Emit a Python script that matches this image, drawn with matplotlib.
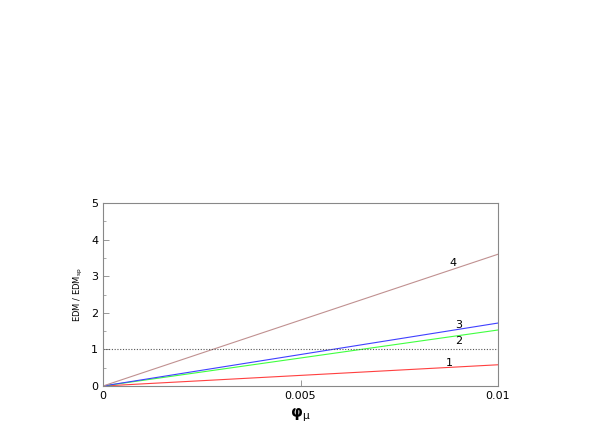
import matplotlib
matplotlib.use("Agg")
import matplotlib.pyplot as plt
from matplotlib.ticker import MultipleLocator

phi = [0.0, 0.01]
line1 = [0.0, 0.58]
line2 = [0.0, 1.53]
line3 = [0.0, 1.72]
line4 = [0.0, 3.6]
colors = ["#ff4040", "#40ff40", "#4040ff", "#c09090"]
labels = ["1", "2", "3", "4"]
label_pos = [(0.00876, 0.63), (0.0090, 1.23), (0.0090, 1.67), (0.00885, 3.37)]

fig = plt.figure(figsize=(5.99, 4.36), dpi=100)
ax = fig.add_axes([103/599, 1-386/436, 395/599, 183/436])
for y, c in zip([line1, line2, line3, line4], colors):
    ax.plot(phi, y, color=c, lw=0.8)
ax.axhline(1.0, color="#555555", lw=0.8, ls=(0, (1, 1.5)))
for t, (x, y) in zip(labels, label_pos):
    ax.text(x, y, t, fontsize=8, ha="center", va="center")
ax.set_xlim(0, 0.01)
ax.set_ylim(0, 5)
ax.set_xticks([0, 0.005, 0.01])
ax.set_xticklabels(["0", "0.005", "0.01"])
ax.yaxis.set_minor_locator(MultipleLocator(0.5))
ax.tick_params(direction="in", labelsize=8, length=4, width=0.6, colors="#888888", labelcolor="black")
ax.tick_params(which="minor", direction="in", length=2, width=0.5, colors="#888888")
for s in ax.spines.values():
    s.set_color("#888888"); s.set_linewidth(0.8)
ax.set_xlabel("φ$_\\mathrm{\\mu}$", fontsize=11, fontweight="bold")
ax.set_ylabel(r"EDM / EDM$_{\rm sp}$", fontsize=6)
fig.savefig("out.png", dpi=100)
